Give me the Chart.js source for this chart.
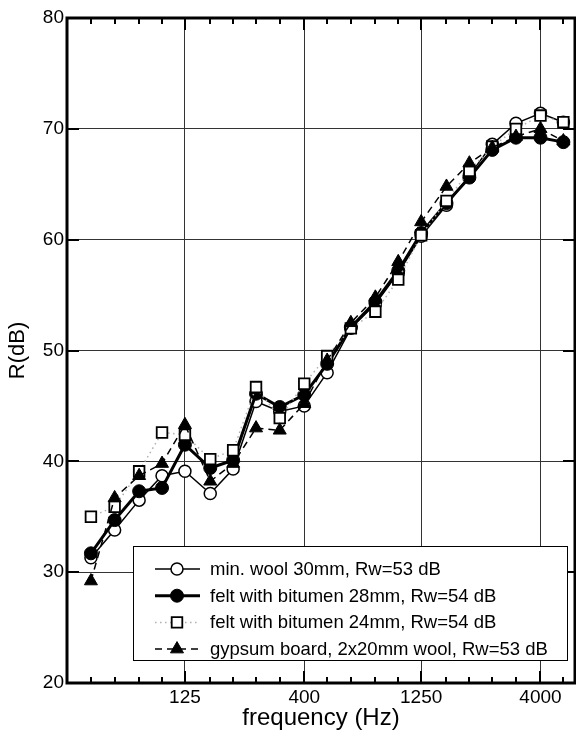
<!DOCTYPE html>
<html>
<head>
<meta charset="utf-8">
<script src="https://cdn.jsdelivr.net/npm/chart.js@4.4.0/dist/chart.umd.min.js"></script>
<style>
  html, body { margin: 0; padding: 0; background: #fff; }
  #wrap { width: 576px; height: 739px; }
</style>
</head>
<body>
<div id="wrap"><canvas id="chart" width="576" height="739"></canvas></div>
<script>
// --- DATA (third-octave bands, sound reduction index in dB) ---
const freqs = [50, 63, 80, 100, 125, 160, 200, 250, 315, 400, 500, 630, 800, 1000, 1250, 1600, 2000, 2500, 3150, 4000, 5000];
const majorFreqs = [125, 400, 1250, 4000];
const yTicks = [20, 30, 40, 50, 60, 70, 80];

const minWool30 = [31.3, 33.8, 36.5, 38.7, 39.1, 37.1, 39.3, 45.4, 44.5, 45.0, 48.0, 52.0, 54.2, 57.0, 60.3, 63.1, 65.8, 68.6, 70.5, 71.4, 70.6];
const felt28    = [31.7, 34.7, 37.3, 37.6, 41.5, 39.4, 40.1, 46.1, 44.9, 46.0, 48.8, 52.1, 54.4, 57.2, 60.6, 63.3, 65.6, 68.1, 69.2, 69.2, 68.8];
const felt24    = [35.0, 35.9, 39.1, 42.6, 42.4, 40.2, 41.0, 46.7, 43.9, 47.0, 49.5, 52.0, 53.5, 56.4, 60.4, 63.5, 66.2, 68.4, 70.0, 71.2, 70.6];
const gypsum    = [29.2, 36.7, 38.7, 39.8, 43.3, 38.2, 39.8, 43.0, 42.8, 45.2, 49.1, 52.5, 54.8, 58.0, 61.6, 64.8, 66.9, 68.3, 69.3, 70.0, 68.9];

const seriesNames = [
  'min. wool 30mm, Rw=53 dB',
  'felt with bitumen 28mm, Rw=54 dB',
  'felt with bitumen 24mm, Rw=54 dB',
  'gypsum board, 2x20mm wool, Rw=53 dB'
];

const FONT = "'Liberation Sans', Arial, Helvetica, sans-serif";
const toXY = arr => arr.map((v, i) => ({ x: freqs[i], y: v }));

// --- frame + inward ticks ---
const frameTicks = {
  id: 'frameTicks',
  beforeDatasetsDraw(chart) {
    const { ctx, chartArea: a, scales: { x, y } } = chart;
    ctx.save();
    ctx.strokeStyle = '#000';
    ctx.lineWidth = 2;
    ctx.beginPath();
    freqs.forEach(f => {
      const px = Math.round(x.getPixelForValue(f));
      const len = majorFreqs.includes(f) ? 12 : 6;
      ctx.moveTo(px, a.bottom); ctx.lineTo(px, a.bottom - len);
      ctx.moveTo(px, a.top); ctx.lineTo(px, a.top + len);
    });
    yTicks.forEach(v => {
      const py = Math.round(y.getPixelForValue(v));
      ctx.moveTo(a.left, py); ctx.lineTo(a.left + 12, py);
      ctx.moveTo(a.right, py); ctx.lineTo(a.right - 12, py);
    });
    ctx.stroke();
    ctx.lineWidth = 3;
    ctx.strokeRect(a.left, a.top, a.right - a.left, a.bottom - a.top);
    ctx.restore();
  }
};

// --- boxed legend inside the plot ---
const boxLegend = {
  id: 'boxLegend',
  afterDraw(chart) {
    const { ctx } = chart;
    const bx = 133, by = 546, bw = 434, bh = 114;
    ctx.save();
    ctx.fillStyle = '#fff';
    ctx.fillRect(bx, by, bw, bh);
    ctx.strokeStyle = '#000';
    ctx.lineWidth = 1;
    ctx.strokeRect(bx + 0.5, by + 0.5, bw, bh);
    chart.data.datasets.forEach((ds, i) => {
      const cy = 569 + i * 26.7;
      ctx.strokeStyle = ds.borderColor;
      ctx.lineWidth = ds.borderWidth;
      ctx.setLineDash(ds.borderDash || []);
      ctx.beginPath();
      ctx.moveTo(155, cy); ctx.lineTo(200, cy);
      ctx.stroke();
      ctx.setLineDash([]);
      ctx.fillStyle = ds.pointBackgroundColor;
      ctx.strokeStyle = ds.pointBorderColor;
      ctx.lineWidth = ds.pointBorderWidth;
      Chart.helpers.drawPoint(ctx, {
        pointStyle: ds.pointStyle, rotation: 0,
        radius: ds.pointRadius, borderWidth: ds.pointBorderWidth
      }, 177, cy);
      ctx.fillStyle = '#000';
      ctx.font = '18.5px ' + FONT;
      ctx.textBaseline = 'middle';
      ctx.textAlign = 'left';
      ctx.fillText(ds.label, 210, cy + 1);
    });
    ctx.restore();
  }
};

new Chart(document.getElementById('chart'), {
  type: 'line',
  data: {
    datasets: [
      {
        label: seriesNames[0], data: toXY(minWool30), order: 4,
        borderColor: '#000', borderWidth: 1.5,
        pointStyle: 'circle', pointRadius: 6, pointBackgroundColor: '#fff',
        pointBorderColor: '#000', pointBorderWidth: 1.5
      },
      {
        label: seriesNames[1], data: toXY(felt28), order: 3,
        borderColor: '#000', borderWidth: 3,
        pointStyle: 'circle', pointRadius: 6.5, pointBackgroundColor: '#000',
        pointBorderColor: '#000', pointBorderWidth: 1
      },
      {
        label: seriesNames[2], data: toXY(felt24), order: 2,
        borderColor: '#b0b0b0', borderWidth: 1.5, borderDash: [1.5, 3.5],
        pointStyle: 'rect', pointRadius: 7.5, pointBackgroundColor: '#fff',
        pointBorderColor: '#000', pointBorderWidth: 1.8
      },
      {
        label: seriesNames[3], data: toXY(gypsum), order: 1,
        borderColor: '#000', borderWidth: 1.5, borderDash: [7, 5],
        pointStyle: 'triangle', pointRadius: 7.5, pointBackgroundColor: '#000',
        pointBorderColor: '#000', pointBorderWidth: 1
      }
    ]
  },
  options: {
    responsive: false,
    animation: false,
    layout: { autoPadding: false, padding: { top: 18, right: 1, left: 0, bottom: 0 } },
    elements: { line: { tension: 0 } },
    plugins: { legend: { display: false }, tooltip: { enabled: false } },
    scales: {
      x: {
        type: 'logarithmic',
        min: 39.6, max: 5600,
        afterBuildTicks: s => { s.ticks = majorFreqs.map(v => ({ value: v })); },
        afterFit: s => { s.height = 56; s.paddingLeft = 0; s.paddingRight = 0; },
        ticks: {
          callback: v => String(v),
          color: '#000', padding: 3,
          font: { family: FONT, size: 19 },
          maxRotation: 0, autoSkip: false
        },
        grid: { color: '#333', lineWidth: 1, drawTicks: false },
        border: { display: false },
        title: {
          display: true, text: 'frequency (Hz)', color: '#000',
          font: { family: FONT, size: 24 }, padding: { top: 0, bottom: 6 }
        }
      },
      y: {
        min: 20, max: 80,
        afterBuildTicks: s => { s.ticks = yTicks.map(v => ({ value: v })); },
        afterFit: s => { s.width = 67; s.paddingTop = 0; s.paddingBottom = 0; },
        ticks: {
          color: '#000', padding: 3,
          font: { family: FONT, size: 19 }
        },
        grid: { color: '#333', lineWidth: 1, drawTicks: false },
        border: { display: false },
        title: {
          display: true, text: 'R(dB)', color: '#000',
          font: { family: FONT, size: 22 }, padding: { top: 5, bottom: 0 }
        }
      }
    }
  },
  plugins: [frameTicks, boxLegend]
});
</script>
</body>
</html>
